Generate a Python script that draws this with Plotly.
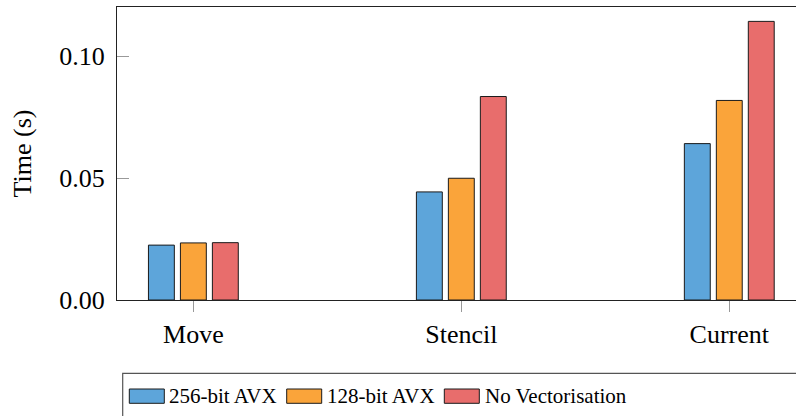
import plotly.graph_objects as go

categories = ["Move", "Stencil", "Current"]
series_names = ["256-bit AVX", "128-bit AVX", "No Vectorisation"]
avx256 = [0.0225, 0.0443, 0.0641]
avx128 = [0.0234, 0.0499, 0.0818]
novec = [0.0235, 0.0834, 0.1142]
colors = ["#5DA5DA", "#FAA43A", "#E86D6C"]
y_ticks = [0.0, 0.05, 0.10]

FONT = "Liberation Serif"

W, H = 796, 416
ML, MR, MT, MB = 117, 0, 7, 116

fig = go.Figure()
for name, vals, col in zip(series_names, [avx256, avx128, novec], colors):
    fig.add_trace(go.Bar(
        x=categories, y=vals, name=name,
        marker=dict(color=col, line=dict(color="#1a1a1a", width=1)),
        showlegend=False,
    ))

fig.update_layout(
    width=W, height=H,
    margin=dict(l=ML, r=MR, t=MT, b=MB, pad=0),
    paper_bgcolor="white", plot_bgcolor="white",
    barmode="group", bargap=0.642, bargroupgap=0.19,
    font=dict(family=FONT, size=26, color="black"),
    xaxis=dict(
        type="category", range=[-0.285, 2.249],
        showline=True, linecolor="#222", linewidth=1, mirror=True,
        ticks="outside", ticklen=11, tickcolor="#999", tickwidth=1,
        showgrid=False, zeroline=False,
        tickfont=dict(family=FONT, size=26),
    ),
    yaxis=dict(
        range=[0, 0.1201], tickvals=y_ticks, tickformat=".2f",
        showline=True, linecolor="#222", linewidth=1, mirror=False,
        ticks="inside", ticklen=12, tickcolor="#999", tickwidth=1,
        showgrid=False, zeroline=False,
        ticklabelstandoff=6,
        tickfont=dict(family=FONT, size=26),
        title=dict(text="Time (s)", font=dict(family=FONT, size=26), standoff=20),
    ),
)

plot_w = W - ML - MR
plot_h = H - MT - MB
y0_pix = MT + plot_h

def px(xpix):
    return (xpix - ML) / plot_w

def py(ypix):
    return (y0_pix - ypix) / plot_h

fig.add_shape(type="rect", xref="paper", yref="paper",
              x0=px(122.7), x1=px(900), y0=py(373.3), y1=py(450),
              line=dict(color="#555", width=1.2), fillcolor="rgba(0,0,0,0)")

sw_x = [129.3, 286.7, 444.3]
txt_x = [169, 326.7, 485]
for name, col, sx, tx in zip(series_names, colors, sw_x, txt_x):
    fig.add_shape(type="rect", xref="paper", yref="paper",
                  x0=px(sx), x1=px(sx + 35), y0=py(403.3), y1=py(389),
                  line=dict(color="#1a1a1a", width=1), fillcolor=col)
    fig.add_annotation(xref="paper", yref="paper", x=px(tx - 2), y=py(396),
                       text=name, showarrow=False, xanchor="left", yanchor="middle",
                       font=dict(family=FONT, size=21, color="black"))

fig.write_html("out.html")
